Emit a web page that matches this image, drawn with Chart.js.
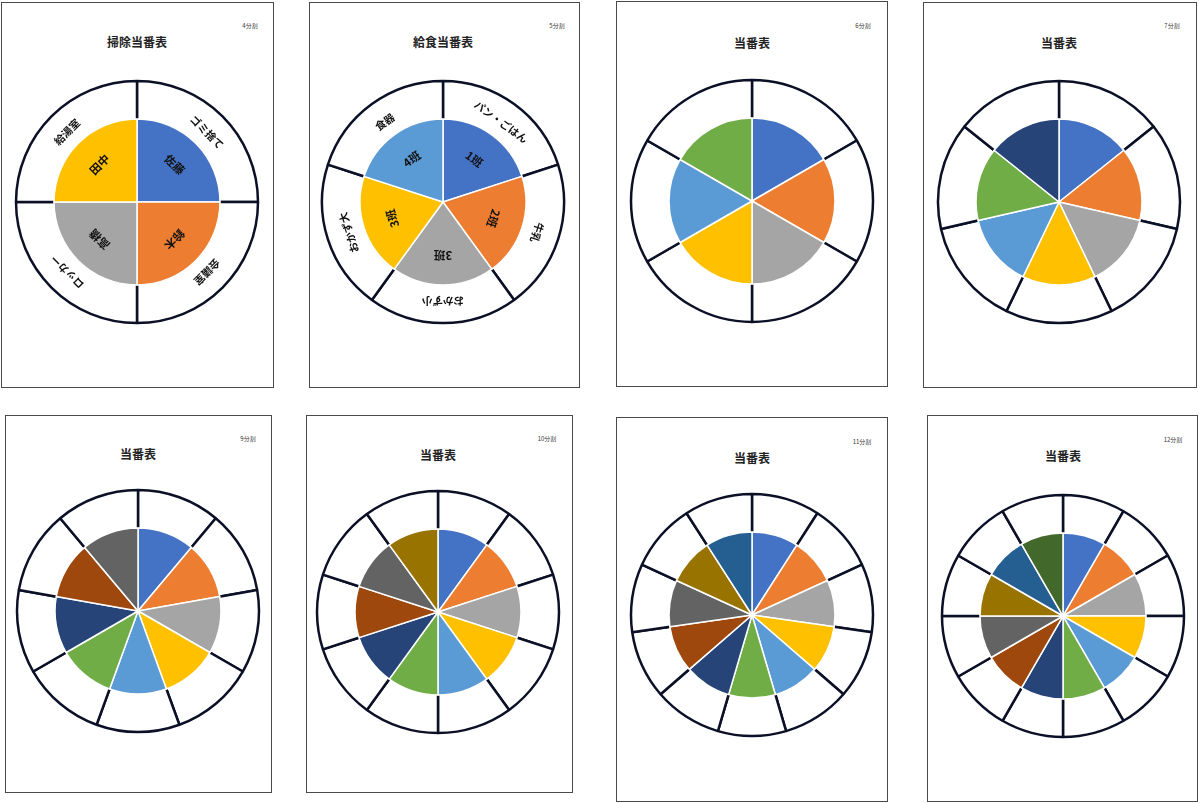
<!DOCTYPE html>
<html lang="ja">
<head>
<meta charset="utf-8">
<script src="https://cdn.jsdelivr.net/npm/chart.js@4.4.1/dist/chart.umd.min.js"></script>
<style>
  html, body { margin: 0; padding: 0; background: #fff; }
  body { width: 1200px; height: 803px; position: relative; overflow: hidden; font-family: "Noto Sans CJK JP", sans-serif; }
  .page { position: absolute; box-sizing: border-box; border: 1px solid #4a4a4a; background: #fff; }
  .title { position: absolute; transform: translate(-50%, -50%); font-weight: bold; font-size: 12px; color: #222; white-space: nowrap; }
  .split { position: absolute; transform: translate(-50%, -50%); font-size: 6px; color: #333; white-space: nowrap; }
  canvas { position: absolute; }
</style>
</head>
<body>
<script>
// ページごとの見出し
const pageTitles = ["掃除当番表", "給食当番表", "当番表", "当番表", "当番表", "当番表", "当番表", "当番表"];
const splitNames = ["4分割", "5分割", "6分割", "7分割", "9分割", "10分割", "11分割", "12分割"];

// 掃除当番（4分割）
const cleanPlaces = ["ゴミ捨て", "会議室", "ロッカー", "給湯室"];
const cleanMembers = ["佐藤", "鈴木", "高橋", "田中"];

// 給食当番（5分割）
const lunchJobs = ["パン・ごはん", "牛乳", "おかず小", "おかず大", "食器"];
const lunchGroups = ["1班", "2班", "3班", "3班", "4班"];

// 扇形の大きさ（どれも同じ幅）
const shares4 = [1, 1, 1, 1];
const shares5 = [1, 1, 1, 1, 1];
const shares6 = [1, 1, 1, 1, 1, 1];
const shares7 = [1, 1, 1, 1, 1, 1, 1];
const shares9 = [1, 1, 1, 1, 1, 1, 1, 1, 1];
const shares10 = [1, 1, 1, 1, 1, 1, 1, 1, 1, 1];
const shares11 = [1, 1, 1, 1, 1, 1, 1, 1, 1, 1, 1];
const shares12 = [1, 1, 1, 1, 1, 1, 1, 1, 1, 1, 1, 1];

const sharesByPage = [shares4, shares5, shares6, shares7, shares9, shares10, shares11, shares12];
const outerByPage = [cleanPlaces, lunchJobs];
const innerByPage = [cleanMembers, lunchGroups];

const sliceColors = ["#4472C4", "#ED7D31", "#A5A5A5", "#FFC000", "#5B9BD5", "#70AD47",
                     "#264478", "#9E480E", "#636363", "#997300", "#255E91", "#43682B"];

// 紙の位置と円の中心
const pages = [
  { l: 1,   t: 2,   r: 274,  b: 388, cx: 137,  cy: 202, ty: 41,  sx: 250,  sy: 25 },
  { l: 309, t: 2,   r: 580,  b: 388, cx: 443,  cy: 202, ty: 41,  sx: 557,  sy: 25 },
  { l: 616, t: 1,   r: 888,  b: 387, cx: 752,  cy: 201, ty: 42,  sx: 863,  sy: 25 },
  { l: 923, t: 2,   r: 1197, b: 388, cx: 1059, cy: 202, ty: 42,  sx: 1172, sy: 25 },
  { l: 5,   t: 415, r: 272,  b: 793, cx: 138,  cy: 611, ty: 453, sx: 248,  sy: 438 },
  { l: 306, t: 415, r: 573,  b: 793, cx: 438,  cy: 612, ty: 454, sx: 547,  sy: 438 },
  { l: 616, t: 417, r: 888,  b: 802, cx: 752,  cy: 615, ty: 457, sx: 862,  sy: 441 },
  { l: 927, t: 415, r: 1198, b: 802, cx: 1063, cy: 616, ty: 455, sx: 1173, sy: 439 }
];

const ringRadius = 121;
const ringCutout = 81;
const pieRadius = 83;
const box = 260;

function sectorText(labels, place, size) {
  return {
    id: "sectorText",
    afterDatasetsDraw(chart) {
      const ctx = chart.ctx;
      chart.getDatasetMeta(0).data.forEach((arc, i) => {
        const p = arc.getProps(["x", "y", "startAngle", "endAngle", "innerRadius", "outerRadius"], true);
        const mid = (p.startAngle + p.endAngle) / 2;
        const rr = p.innerRadius + (p.outerRadius - p.innerRadius) * place;
        ctx.save();
        ctx.translate(p.x + Math.cos(mid) * rr, p.y + Math.sin(mid) * rr);
        ctx.rotate(mid + Math.PI / 2);
        ctx.font = "bold " + size + "px 'Noto Sans CJK JP'";
        ctx.fillStyle = "#111";
        ctx.textAlign = "center";
        ctx.textBaseline = "middle";
        ctx.fillText(labels[i], 0, 0);
        ctx.restore();
      });
    }
  };
}

function addEl(tag, cls, x, y) {
  const el = document.createElement(tag);
  if (cls) el.className = cls;
  el.style.left = x + "px";
  el.style.top = y + "px";
  document.body.appendChild(el);
  return el;
}

pages.forEach((pg, k) => {
  const sheet = addEl("div", "page", pg.l, pg.t);
  sheet.style.width = (pg.r - pg.l) + "px";
  sheet.style.height = (pg.b - pg.t) + "px";

  addEl("div", "title", pg.cx, pg.ty).textContent = pageTitles[k];
  addEl("div", "split", pg.sx, pg.sy).textContent = splitNames[k];

  const shares = sharesByPage[k];
  const outer = outerByPage[k];
  const inner = innerByPage[k];

  // 外側の白い輪
  const ringCv = addEl("canvas", null, pg.cx - box / 2, pg.cy - box / 2);
  ringCv.width = box; ringCv.height = box;
  new Chart(ringCv, {
    type: "doughnut",
    data: {
      labels: outer || shares.map((v, i) => String(i + 1)),
      datasets: [{ data: shares, backgroundColor: "#ffffff", borderColor: "#0b1026", borderWidth: 2.5 }]
    },
    options: {
      responsive: false, animation: false, events: [],
      radius: ringRadius,
      cutout: (ringCutout / ringRadius * 100) + "%",
      plugins: { legend: { display: false }, tooltip: { enabled: false } }
    },
    plugins: outer ? [sectorText(outer, 0.45, 10.5)] : []
  });

  // 内側の色付き円
  const pieCv = addEl("canvas", null, pg.cx - box / 2, pg.cy - box / 2);
  pieCv.width = box; pieCv.height = box;
  new Chart(pieCv, {
    type: "pie",
    data: {
      labels: inner || shares.map((v, i) => String(i + 1)),
      datasets: [{ data: shares, backgroundColor: sliceColors.slice(0, shares.length), borderColor: "#ffffff", borderWidth: 1.5 }]
    },
    options: {
      responsive: false, animation: false, events: [],
      radius: pieRadius,
      plugins: { legend: { display: false }, tooltip: { enabled: false } }
    },
    plugins: inner ? [sectorText(inner, 0.64, 11.5)] : []
  });
});
</script>
</body>
</html>
